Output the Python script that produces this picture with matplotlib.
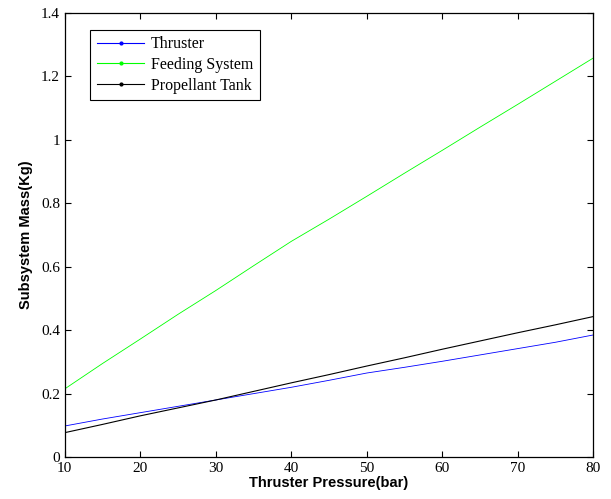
import matplotlib.pyplot as plt
from matplotlib.lines import Line2D

# Thruster pressure (bar) and subsystem masses (kg)
pressure = [10, 15, 20, 25, 30, 35, 40, 45, 50, 55, 60, 65, 70, 75, 80]
thruster = [0.098, 0.120, 0.140, 0.160, 0.180, 0.200, 0.220, 0.242, 0.265, 0.283, 0.302, 0.322, 0.342, 0.362, 0.385]
feeding = [0.215, 0.295, 0.372, 0.450, 0.525, 0.603, 0.680, 0.750, 0.822, 0.895, 0.967, 1.040, 1.112, 1.185, 1.258]
tank = [0.077, 0.103, 0.130, 0.155, 0.180, 0.207, 0.234, 0.260, 0.287, 0.313, 0.340, 0.366, 0.392, 0.417, 0.443]

fig = plt.figure(figsize=(6.11, 4.99), dpi=100)
ax = fig.add_axes([0.106, 0.084, 0.865, 0.890])

ax.plot(pressure, thruster, color='blue', lw=0.6)
ax.plot(pressure, feeding, color='#00ff00', lw=0.6)
ax.plot(pressure, tank, color='black', lw=0.8)

ax.set_xlim(10, 80)
ax.set_ylim(0, 1.4)
ax.set_xticks(range(10, 81, 10))
ax.set_yticks([0, 0.2, 0.4, 0.6, 0.8, 1, 1.2, 1.4])
ax.set_yticklabels(['0', '0.2', '0.4', '0.6', '0.8', '1', '1.2', '1.4'])
ax.tick_params(direction='in', top=True, right=True, length=4, width=0.8)
for lab in ax.get_xticklabels() + ax.get_yticklabels():
    lab.set_fontfamily('Liberation Serif')
    lab.set_fontsize(11)
for s in ax.spines.values():
    s.set_linewidth(0.9)

ax.set_xlabel('Thruster Pressure(bar)', fontfamily='Liberation Sans', fontweight='bold', fontsize=10.5, labelpad=1)
ax.set_ylabel('Subsystem Mass(Kg)', fontfamily='Liberation Sans', fontweight='bold', fontsize=10.5, labelpad=6)

handles = [
    Line2D([], [], color='blue', lw=0.8, marker='.', markersize=4),
    Line2D([], [], color='#00ff00', lw=0.8, marker='.', markersize=4),
    Line2D([], [], color='black', lw=0.8, marker='.', markersize=4),
]
leg = ax.legend(handles, ['Thruster', 'Feeding System', 'Propellant Tank'],
                loc='upper left', bbox_to_anchor=(0.033, 0.98),
                prop={'family': 'Liberation Serif', 'size': 11.5},
                fancybox=False, edgecolor='black', framealpha=1,
                handlelength=3.0, handletextpad=0.4, labelspacing=0.3,
                borderpad=0.4)
leg.get_frame().set_linewidth(0.8)

fig.savefig('out.png', dpi=100)
